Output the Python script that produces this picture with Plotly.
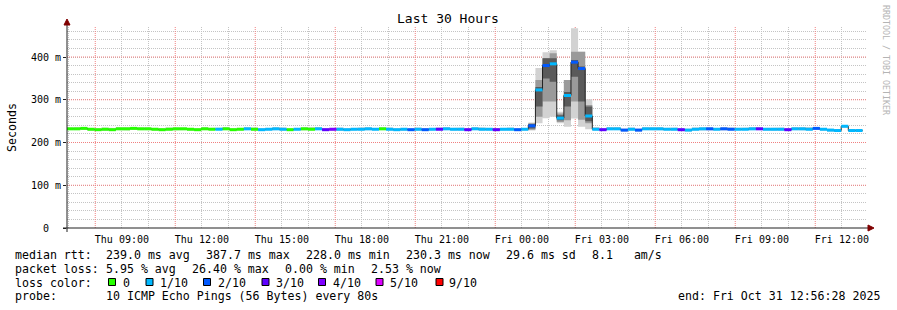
import plotly.graph_objects as go
import pandas as pd

# ---------------- data ----------------
first_step = pd.Timestamp("2025-10-30 06:54:25")
step_seconds = 960
view_start = "2025-10-30 06:56:28"
view_end = "2025-10-31 12:56:28"

median_ms = [
    232, 232, 233, 231, 230, 231, 230, 232, 232, 233, 232, 232, 231, 230, 231, 232, 232, 231, 230, 232, 231,
    231, 232, 230, 231, 232, 231, 230, 231, 232, 231,
    230, 231, 232, 231, 232, 230, 231, 231, 230, 231,
    231, 232, 231, 232, 231, 230, 231, 230, 231, 230,
    231, 231, 232, 231, 231, 230, 232, 231, 231, 230,
    231, 231, 230, 231,
    239, 323, 380, 384, 257, 310, 388, 373, 262,
    231, 230, 232, 232, 229, 231, 229, 232, 232, 232,
    231, 231, 230, 229, 231, 232, 232, 231, 232, 231,
    231, 231, 232, 232, 231, 231, 231, 230, 232, 232,
    231, 233, 231, 229, 228, 238, 228, 228,
]

# loss level index per step: 0 -> "0", 1 -> "1/10", 2 -> "2/10", 3 -> "3/10", 4 -> "4/10" ...
loss_level = [
    0, 0, 0, 0, 0, 0, 0, 0, 0, 0, 0, 0, 0, 0, 0, 0, 0, 0, 0, 0, 0,
    1, 0, 0, 0, 1, 0, 1, 1, 1, 1,
    0, 1, 0, 0, 1, 3, 4, 1, 1, 1,
    1, 1, 1, 0, 1, 1, 1, 2, 1, 2,
    1, 3, 1, 1, 1, 3, 1, 1, 1, 3,
    1, 1, 2, 1,
    2, 1, 2, 1, 1, 1, 2, 2, 1,
    1, 3, 1, 1, 2, 1, 2, 1, 1, 1,
    1, 1, 3, 1, 1, 1, 2, 1, 2, 2,
    1, 1, 1, 3, 1, 1, 1, 3, 1, 1,
    1, 2, 1, 1, 1, 1, 1, 1,
]

smoke_lo = [
    229, 229, 230, 228, 227, 228, 227, 229, 228, 230, 229, 229, 228, 227, 228, 229, 229, 228, 227, 229, 228,
    228, 229, 227, 228, 229, 228, 227, 228, 229, 228,
    227, 228, 229, 228, 229, 227, 228, 228, 227, 228,
    228, 229, 228, 229, 228, 227, 228, 227, 228, 227,
    228, 228, 229, 228, 228, 227, 229, 228, 228, 227,
    228, 228, 227, 228,
    228, 245, 257, 260, 245, 237, 256, 237, 231,
    228, 227, 229, 229, 226, 228, 226, 229, 229, 229,
    228, 228, 227, 226, 228, 229, 229, 228, 229, 228,
    228, 228, 229, 229, 228, 228, 228, 227, 229, 229,
    228, 230, 228, 226, 225, 234, 226, 225,
]
smoke_hi = [
    235, 236, 236, 234, 233, 235, 234, 236, 236, 236, 235, 235, 234, 233, 235, 236, 235, 234, 233, 236, 234,
    235, 236, 233, 234, 236, 235, 233, 234, 236, 235,
    233, 234, 236, 235, 236, 233, 234, 235, 233, 234,
    235, 236, 234, 236, 235, 233, 234, 233, 235, 233,
    234, 235, 236, 234, 235, 233, 236, 235, 234, 233,
    234, 235, 233, 234,
    247, 374, 411, 416, 272, 346, 467, 412, 301,
    236, 233, 236, 236, 232, 235, 232, 236, 236, 236,
    234, 235, 233, 232, 235, 236, 236, 234, 236, 235,
    234, 235, 236, 236, 234, 235, 235, 233, 236, 236,
    235, 236, 234, 232, 231, 241, 232, 231,
]

# denser smoke layers during the spike
spike_steps = [65, 66, 67, 68, 69, 70, 71, 72, 73]
mid_lo = [230, 260, 296, 296, 248, 252, 296, 253, 245]
mid_hi = [245, 346, 397, 409, 268, 346, 412, 412, 288]
inner_lo = [233, 284, 350, 342, 252, 284, 354, 296, 250]
inner_hi = [243, 330, 397, 397, 264, 318, 393, 378, 284]

loss_labels = ["0", "1/10", "2/10", "3/10", "4/10", "5/10", "9/10"]
loss_colors = ["#26ff00", "#00b8ff", "#0059ff", "#5e00ff", "#7e00ff", "#dd00ff", "#ff0000"]

y_ticks = [0, 100, 200, 300, 400]
y_ticktext = ["0\u00a0\u00a0", "100 m", "200 m", "300 m", "400 m"]

legend_median = ["median rtt:", "239.0 ms avg", "387.7 ms max", "228.0 ms min", "230.3 ms now", "29.6 ms sd", "8.1   am/s"]
legend_loss = ["packet loss:", "5.95 % avg", "26.40 % max", "0.00 % min", "2.53 % now"]
probe_text = ["probe:", "10 ICMP Echo Pings (56 Bytes) every 80s"]
end_text = "end: Fri Oct 31 12:56:28 2025"
title_text = "Last 30 Hours"

# ---------------- geometry ----------------
W, H = 897, 310
PL, PR, PT, PB = 67, 867, 27, 228
Y_MAX = 470.18
MONO = "DejaVu Sans Mono"
GRID = "rgb(196,196,196)"
MGRID = "rgb(240,128,128)"
DOT = "1px,1px"


def px(x):
    return (x - PL) / (PR - PL)


def py(y):
    return (PB - y) / (PB - PT)


n = len(median_ms)
step = pd.Timedelta(seconds=step_seconds)
starts = [first_step + i * step for i in range(n)]
ends = [s + step for s in starts]

fig = go.Figure()

# ---- major (red) grid lines: 08:00 + 3h*k vertically, every 100 m horizontally ----
hours = pd.date_range("2025-10-30 07:00", "2025-10-31 12:00", freq="1h")
grey_hours = [h for h in hours if (h.hour - 8) % 3 != 0]
red_hours = [h for h in hours if (h.hour - 8) % 3 == 0]
tick_text = [h.strftime("%a %H:%M") if h.hour % 3 == 0 else "" for h in grey_hours]

gx, gy = [], []
for h in red_hours:
    gx += [h, h, None]
    gy += [0, Y_MAX, None]
for v in y_ticks[1:]:
    gx += [pd.Timestamp(view_start), pd.Timestamp(view_end), None]
    gy += [v, v, None]
fig.add_trace(go.Scatter(x=gx, y=gy, mode="lines", line=dict(color=MGRID, width=1, dash=DOT),
                         showlegend=False, hoverinfo="skip", connectgaps=False))


# ---- smoke (stepped polygons) ----
def smoke_poly(idx, lo, hi, color):
    xs, ys = [], []
    for k, i in enumerate(idx):
        xs += [starts[i], ends[i]]
        ys += [hi[k], hi[k]]
    for k in range(len(idx) - 1, -1, -1):
        i = idx[k]
        xs += [ends[i], starts[i]]
        ys += [lo[k], lo[k]]
    xs.append(xs[0])
    ys.append(ys[0])
    fig.add_trace(go.Scatter(x=xs, y=ys, mode="lines", fill="toself", fillcolor=color,
                             line=dict(width=0, color=color), showlegend=False, hoverinfo="skip"))


smoke_poly(list(range(n)), smoke_lo, smoke_hi, "#d2d2d2")
smoke_poly(spike_steps, mid_lo, mid_hi, "#9a9a9a")
smoke_poly(spike_steps, inner_lo, inner_hi, "#5a5a5a")

# black median step line
fig.add_trace(go.Scatter(
    x=starts + [ends[-1]], y=median_ms + [median_ms[-1]], mode="lines",
    line=dict(shape="hv", color="#202020", width=1), showlegend=False, hoverinfo="skip",
))

# loss-coloured median segments
for lvl, col in enumerate(loss_colors):
    xs, ys = [], []
    for i in range(n):
        if loss_level[i] == lvl:
            xs += [starts[i], ends[i], None]
            ys += [median_ms[i], median_ms[i], None]
    if xs:
        fig.add_trace(go.Scatter(x=xs, y=ys, mode="lines", line=dict(color=col, width=3),
                                 showlegend=False, hoverinfo="skip", connectgaps=False))

fig.update_layout(
    width=W, height=H,
    margin=dict(l=PL, r=W - PR, t=PT, b=H - PB, pad=0),
    paper_bgcolor="white", plot_bgcolor="white",
    showlegend=False,
    font=dict(family=MONO, color="black"),
    xaxis=dict(
        type="date", range=[view_start, view_end],
        tickmode="array", tickvals=grey_hours, ticktext=tick_text,
        tickfont=dict(family=MONO, size=10, color="black"),
        showgrid=True, gridcolor=GRID, griddash=DOT, gridwidth=1,
        showline=False, zeroline=False, ticks="outside", ticklen=2, tickcolor="rgba(0,0,0,0)",
        fixedrange=True,
    ),
    yaxis=dict(
        range=[0, Y_MAX], tickmode="array", tickvals=y_ticks, ticktext=y_ticktext,
        tickfont=dict(family=MONO, size=10, color="black"),
        showgrid=False,
        minor=dict(tick0=0, dtick=20, showgrid=True, gridcolor=GRID, griddash=DOT, gridwidth=1),
        ticks="outside", ticklen=3, tickcolor="#202020",
        showline=False, zeroline=False, fixedrange=True,
    ),
)

shapes = []
# axes lines
shapes.append(dict(type="line", xref="paper", yref="paper", x0=px(63), x1=px(869), y0=0, y1=0,
                   line=dict(color="#202020", width=1)))
shapes.append(dict(type="line", xref="paper", yref="paper", x0=0, x1=0, y0=py(232), y1=py(24),
                   line=dict(color="#202020", width=1)))
# arrows
shapes.append(dict(type="path", xref="paper", yref="paper",
                   path=f"M {px(868)},{py(225)} L {px(874)},{py(228)} L {px(868)},{py(231)} Z",
                   fillcolor="#800000", line=dict(color="#800000", width=1)))
shapes.append(dict(type="path", xref="paper", yref="paper",
                   path=f"M {px(64)},{py(25)} L {px(67)},{py(19)} L {px(70)},{py(25)} Z",
                   fillcolor="#800000", line=dict(color="#800000", width=1)))

annotations = []


def text(x, y, s, size=11.6, anchor="left", color="black", angle=0, yanchor="middle"):
    annotations.append(dict(
        x=px(x), y=py(y), xref="paper", yref="paper", text=s, showarrow=False,
        xanchor=anchor, yanchor=yanchor, textangle=angle, borderpad=0, borderwidth=0,
        font=dict(family=MONO, size=size, color=color),
    ))


text(448, 19, title_text, size=13, anchor="center")
text(12, 127, "Seconds", size=11.6, anchor="center", angle=-90)
text(886, 60, "RRDTOOL / TOBI OETIKER", size=8.3, anchor="center", angle=90, color="#b4b4b4")

row_y = [254.5, 268.5, 282.5, 296.2]
med_x = [16, 107, 207, 307, 407, 507, 593]
for xx, s in zip(med_x, legend_median):
    text(xx - 0.6, row_y[0], s)
loss_x = [16, 107, 193, 286, 372]
for xx, s in zip(loss_x, legend_loss):
    text(xx - 0.6, row_y[1], s)

text(16 - 0.6, row_y[2], "loss color:")
sq_x = [108.5, 146, 203.5, 262, 318.5, 376, 436]
lab_x = [123.3, 160.7, 218.3, 276.7, 333.3, 390.7, 450]
for sx, lx, lab, col in zip(sq_x, lab_x, loss_labels, loss_colors):
    shapes.append(dict(type="rect", xref="paper", yref="paper",
                       x0=px(sx), x1=px(sx + 7), y0=py(285.5), y1=py(278.5),
                       fillcolor=col, line=dict(color="black", width=1)))
    text(lx - 0.6, row_y[2], lab)

text(16 - 0.6, row_y[3], probe_text[0])
text(107 - 0.6, row_y[3], probe_text[1])
text(880, row_y[3], end_text, anchor="right")

fig.update_layout(shapes=shapes, annotations=annotations)
fig.write_html("out.html")
